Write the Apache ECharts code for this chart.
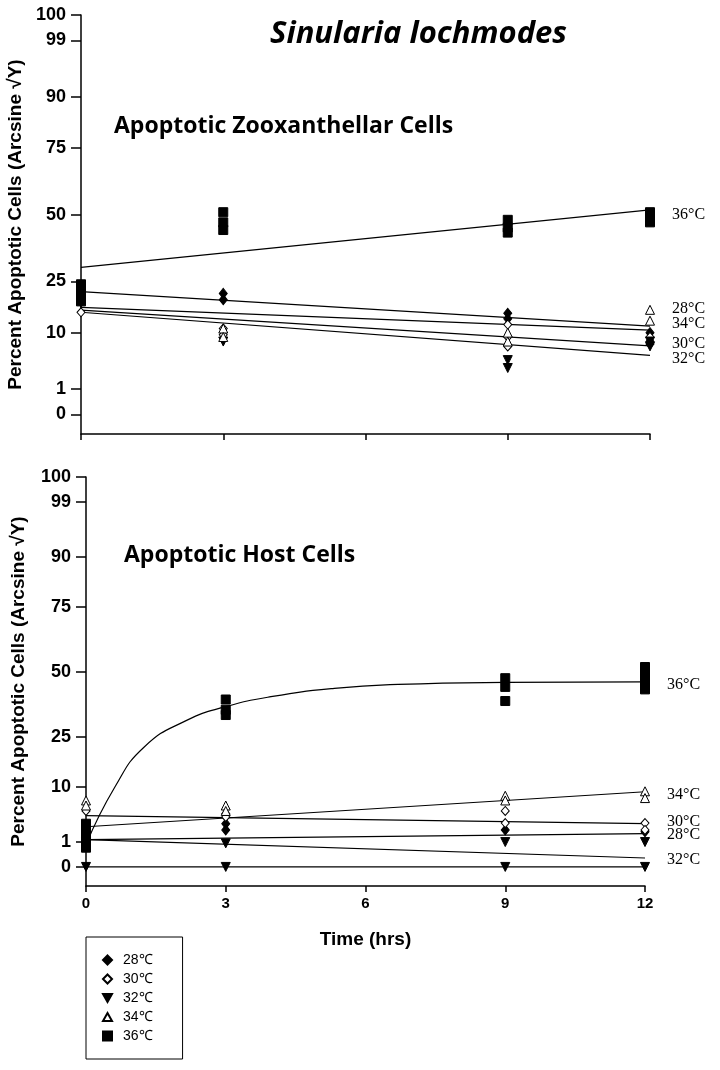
<!DOCTYPE html>
<html><head><meta charset="utf-8">
<script src="https://cdn.jsdelivr.net/npm/echarts@6/dist/echarts.min.js"></script>
<style>html,body{margin:0;padding:0;background:#fff}#c{width:720px;height:1070px}</style>
</head><body><div id="c"></div>
<script>
// ---- data (percent apoptotic cells, plotted on arcsine sqrt scale) ----
const tickPcts = [0, 1, 10, 25, 50, 75, 90, 99, 100];
const timeTicks = [0, 3, 6, 9, 12];
const tempNames = ['28\u2103', '30\u2103', '32\u2103', '34\u2103', '36\u2103'];
const lineLabels = ['28\u00B0C', '30\u00B0C', '32\u00B0C', '34\u00B0C', '36\u00B0C'];

// Zooxanthellar cells: [time, percent]
const zoo28 = [[0,21],[0,19],[3,21],[3,19],[9,15],[9,13.5],[12,10],[12,8]];
const zoo30 = [[0,15.3],[3,11],[3,9.5],[9,12],[9,9],[9,7],[12,9],[12,7.5]];
const zoo32 = [[0,18],[3,8],[9,4.5],[9,3.3],[12,8],[12,7]];
const zoo34 = [[0,24],[3,11],[3,9],[9,10],[9,8],[12,16],[12,13]];
const zoo36 = [[0,24],[0,21],[0,18.5],[3,51],[3,47],[3,44],[9,48],[9,45],[9,43],[12,51],[12,49],[12,47]];
const zooFit28 = [[0,21.6],[12,11.6]];
const zooFit30 = [[0,15.9],[12,7.1]];
const zooFit32 = [[0,15.3],[12,5.3]];
const zooFit34 = [[0,16.7],[12,10.6]];
const zooFit36 = [[0,29.9],[12,51.9]];

// Host cells
const host28 = [[0,2],[0,1.5],[3,3],[3,2.2],[9,2.2],[12,2]];
const host30 = [[0,5],[3,4.5],[3,4],[9,5],[9,3.1],[12,3.1],[12,2.2]];
const host32 = [[0,1],[0,0],[3,0.9],[3,0],[9,1],[9,0],[12,1],[12,0]];
const host34 = [[0,7],[0,6],[3,6],[3,5],[9,8],[9,7],[12,9],[12,7.5]];
const host36 = [[0,3],[0,2],[0,1.2],[0,0.6],[3,39],[3,35],[3,33],[9,47.5],[9,44],[9,38.4],[12,52],[12,49],[12,46],[12,43]];
const hostFit28 = [[0,1.2],[12,1.8]];
const hostFit30 = [[0,4.2],[12,3.0]];
const hostFit32 = [[0,1.2],[12,0.13]];
const hostFit34 = [[0,2.6],[12,8.9]];
const hostFit36 = [[0,0.8],[0.62,10],[1.25,21.6],[2.16,31],[3,36.2],[3.97,40.1],[5.33,43.4],[6.7,45],[9,45.8],[12,46]];
const hostZero = [[0,0],[12,0]];

// ---- helpers ----
const toDeg = p => Math.asin(Math.sqrt(p / 100)) * 180 / Math.PI;
const conv = arr => arr.map(d => [d[0], toDeg(d[1])]);
const tickDegs = tickPcts.map(toDeg);
const labelFor = v => {
  let best = 0, bd = 1e9;
  tickDegs.forEach((d, i) => { if (Math.abs(d - v) < bd) { bd = Math.abs(d - v); best = i; } });
  return String(tickPcts[best]);
};

const downTri = 'path://M0,0 L10,0 L5,9 Z';
const upTri = 'path://M5,0 L10,9 L0,9 Z';
const symbols = [
  {symbol: 'diamond', fill: '#000', size: [8, 10]},
  {symbol: 'diamond', fill: '#fff', size: [8, 9]},
  {symbol: downTri, fill: '#000', size: [9, 9]},
  {symbol: upTri, fill: '#fff', size: [9, 9]},
  {symbol: 'rect', fill: '#000', size: [9, 9]}
];

function scatter(idx, data, gi) {
  const s = symbols[idx];
  return {
    type: 'scatter', name: tempNames[idx], xAxisIndex: gi, yAxisIndex: gi,
    data: conv(data), symbol: s.symbol, symbolSize: s.size,
    itemStyle: {color: s.fill, borderColor: '#000', borderWidth: 1, opacity: 1},
    z: 3
  };
}
function fit(data, gi, label, offset, smooth) {
  return {
    type: 'line', xAxisIndex: gi, yAxisIndex: gi, data: conv(data), showSymbol: false, smooth: !!smooth,
    lineStyle: {color: '#000', width: 1.2}, silent: true, z: 2,
    endLabel: label ? {show: true, formatter: label, offset: offset,
      fontFamily: 'Liberation Serif', fontSize: 16, color: '#000'} : {show: false}
  };
}

function yAxisCfg(gi) {
  return {
    type: 'value', gridIndex: gi, min: -4.4, max: 90,
    name: 'Percent Apoptotic Cells (Arcsine \u221AY)', nameLocation: 'middle', nameGap: gi === 0 ? 53 : 58,
    nameTextStyle: {fontFamily: 'Liberation Sans', fontWeight: 'bold', fontSize: 19, color: '#000'},
    axisLine: {show: true, lineStyle: {color: '#000', width: 1.5}},
    axisTick: {show: true, length: 10, customValues: tickDegs, lineStyle: {color: '#000', width: 1.5}},
    axisLabel: {customValues: tickDegs, formatter: labelFor, fontFamily: 'Liberation Sans',
      fontWeight: 'bold', fontSize: 18, color: '#000', margin: 15},
    splitLine: {show: false}
  };
}
function xAxisCfg(gi, showLabels) {
  const c = {
    type: 'value', gridIndex: gi, min: 0, max: 12, interval: 3,
    axisLine: {show: true, onZero: false, lineStyle: {color: '#000', width: 1.5}},
    axisTick: {show: true, length: 6, lineStyle: {color: '#000', width: 1.5}},
    axisLabel: {show: showLabels, fontFamily: 'Liberation Sans', fontWeight: 'bold', fontSize: 15, color: '#000', margin: 10},
    splitLine: {show: false}
  };
  if (showLabels) {
    c.name = 'Time (hrs)'; c.nameLocation = 'middle'; c.nameGap = 44;
    c.nameTextStyle = {fontFamily: 'Liberation Sans', fontWeight: 'bold', fontSize: 19, color: '#000'};
  }
  return c;
}

const chart = echarts.init(document.getElementById('c'), null, {renderer: 'canvas'});
chart.setOption({
  animation: false,
  backgroundColor: '#fff',
  title: [
    {text: 'Sinularia lochmodes', left: 265, top: 14,
      textStyle: {fontFamily: 'Open Sans', fontStyle: 'italic', fontWeight: 'bold', fontSize: 31, color: '#000'}},
    {text: 'Apoptotic Zooxanthellar Cells', left: 109, top: 110,
      textStyle: {fontFamily: 'Open Sans', fontWeight: 'bold', fontSize: 23, color: '#000'}},
    {text: 'Apoptotic Host Cells', left: 119, top: 539,
      textStyle: {fontFamily: 'Open Sans', fontWeight: 'bold', fontSize: 23, color: '#000'}}
  ],
  grid: [
    {left: 81, top: 15, width: 569, height: 419, outerBoundsMode: 'none', containLabel: false},
    {left: 86, top: 477, width: 559, height: 409, outerBoundsMode: 'none', containLabel: false}
  ],
  xAxis: [xAxisCfg(0, false), xAxisCfg(1, true)],
  yAxis: [yAxisCfg(0), yAxisCfg(1)],
  legend: {
    orient: 'vertical', left: 86, top: 937, itemGap: 5, height: 125,
    data: tempNames, itemWidth: 9, itemHeight: 9,
    borderColor: '#000', borderWidth: 1, padding: [16, 30, 16, 16],
    textStyle: {fontFamily: 'Liberation Sans', fontSize: 14, color: '#000', padding: [0, 0, 0, 6]}
  },
  series: [
    scatter(0, zoo28, 0), scatter(1, zoo30, 0), scatter(2, zoo32, 0), scatter(3, zoo34, 0), scatter(4, zoo36, 0),
    fit(zooFit36, 0, lineLabels[4], [14, 5]),
    fit(zooFit28, 0, lineLabels[0], [14, -17]),
    fit(zooFit34, 0, lineLabels[3], [14, -6]),
    fit(zooFit30, 0, lineLabels[1], [14, -2]),
    fit(zooFit32, 0, lineLabels[2], [14, 3]),
    scatter(0, host28, 1), scatter(1, host30, 1), scatter(2, host32, 1), scatter(3, host34, 1), scatter(4, host36, 1),
    fit(hostFit36, 1, lineLabels[4], [14, 3], true),
    fit(hostFit34, 1, lineLabels[3], [14, 3]),
    fit(hostFit30, 1, lineLabels[1], [14, -2]),
    fit(hostFit28, 1, lineLabels[0], [14, 1]),
    fit(hostFit32, 1, lineLabels[2], [14, 2]),
    fit(hostZero, 1, null)
  ]
});
</script></body></html>
